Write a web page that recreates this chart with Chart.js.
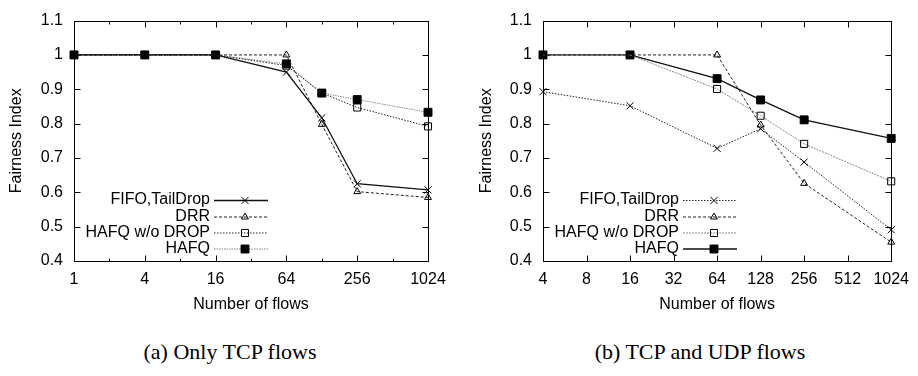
<!DOCTYPE html>
<html>
<head>
<meta charset="utf-8">
<script src="https://cdn.jsdelivr.net/npm/chart.js@4/dist/chart.umd.min.js"></script>
<style>
    body { margin: 0; background: #fff; }
    .box { position: absolute; top: 0; }
    .caption {
        position: absolute;
        width: 400px;
        text-align: center;
        font-family: "Liberation Serif", "Times New Roman", serif;
        font-size: 22px;
        line-height: 26px;
        color: #000;
    }
</style>
</head>
<body>
<div class="box" style="left:0px"><canvas id="chartA" width="460" height="330"></canvas></div>
<div class="box" style="left:460px"><canvas id="chartB" width="458" height="330"></canvas></div>
<div class="caption" style="left:30px; top:339px">(a) Only TCP flows</div>
<div class="caption" style="left:500px; top:339px">(b) TCP and UDP flows</div>

<script>
// =====================
// DATA
// =====================
let seriesNames = ["FIFO,TailDrop", "DRR", "HAFQ w/o DROP", "HAFQ"];
let yTicks = [0.4, 0.5, 0.6, 0.7, 0.8, 0.9, 1.0, 1.1];

// (a) Only TCP flows
let flowsA = [1, 4, 16, 64, 128, 256, 1024];
let fifoA = [1, 1, 1, 0.950, 0.817, 0.625, 0.607];
let drrA = [1, 1, 1, 1.000, 0.798, 0.602, 0.585];
let hafqNoDropA = [1, 1, 1, 0.969, 0.889, 0.847, 0.792];
let hafqA = [1, 1, 1, 0.974, 0.889, 0.870, 0.833];
let xTicksA = [1, 4, 16, 64, 256, 1024];
let xMinorA = [2, 8, 32, 128, 512];

// (b) TCP and UDP flows
let flowsB = [4, 16, 64, 128, 256, 1024];
let fifoB = [0.893, 0.852, 0.728, 0.785, 0.688, 0.491];
let drrB = [1, 1, 1.000, 0.796, 0.626, 0.455];
let hafqNoDropB = [1, 1, 0.901, 0.823, 0.741, 0.632];
let hafqB = [1, 1, 0.931, 0.869, 0.811, 0.757];
let xTicksB = [4, 8, 16, 32, 64, 128, 256, 512, 1024];
let xMinorB = [];

const FONT = "'Liberation Sans', Arial, Helvetica, sans-serif";

// =====================
// LINE / MARKER STYLES
// =====================
const markers = [
    { pointStyle: "crossRot", radius: 5, fill: "rgba(0,0,0,0)" },
    { pointStyle: "triangle", radius: 4, fill: "rgba(0,0,0,0)" },
    { pointStyle: "rect", radius: 5, fill: "rgba(0,0,0,0)" },
    { pointStyle: "rect", radius: 5.6, fill: "#000" }
];

const linesA = [
    { color: "#111", dash: [], width: 1.3 },
    { color: "#222", dash: [3, 2], width: 1 },
    { color: "#222", dash: [1.5, 1.5], width: 1 },
    { color: "#8a8a8a", dash: [1.5, 1], width: 1 }
];

const linesB = [
    { color: "#222", dash: [1.5, 1.5], width: 1 },
    { color: "#222", dash: [3, 2], width: 1 },
    { color: "#8a8a8a", dash: [2, 1], width: 1 },
    { color: "#111", dash: [], width: 1.3 }
];

function makeDatasets(flows, values, lines) {
    return values.map((vals, i) => ({
        label: seriesNames[i],
        data: flows.map((f, k) => ({ x: f, y: vals[k] })),
        borderColor: lines[i].color,
        borderDash: lines[i].dash,
        borderWidth: lines[i].width,
        pointStyle: markers[i].pointStyle,
        pointRadius: markers[i].radius,
        pointBorderColor: "#000",
        pointBackgroundColor: markers[i].fill,
        pointBorderWidth: 1,
        fill: false,
        tension: 0,
        clip: false
    }));
}

// =====================
// GNUPLOT STYLE FRAME + INWARD TICKS
// =====================
const framePlugin = {
    id: "frame",
    beforeDatasetsDraw(chart, args, opts) {
        let ctx = chart.ctx;
        let a = chart.chartArea;
        let xs = chart.scales.x;
        let ys = chart.scales.y;
        let L = Math.round(a.left) + 0.5, R = Math.round(a.right) + 0.5;
        let T = Math.round(a.top) + 0.5, B = Math.round(a.bottom) + 0.5;

        ctx.save();
        ctx.strokeStyle = "#000";
        ctx.lineWidth = 1;
        ctx.beginPath();
        ctx.rect(L, T, R - L, B - T);

        yTicks.forEach(v => {
            let y = Math.round(ys.getPixelForValue(v)) + 0.5;
            ctx.moveTo(L, y); ctx.lineTo(L + 6, y);
            ctx.moveTo(R, y); ctx.lineTo(R - 6, y);
        });
        opts.major.forEach(v => {
            let x = Math.round(xs.getPixelForValue(v)) + 0.5;
            ctx.moveTo(x, B); ctx.lineTo(x, B - 6);
            ctx.moveTo(x, T); ctx.lineTo(x, T + 6);
        });
        opts.minor.forEach(v => {
            let x = Math.round(xs.getPixelForValue(v)) + 0.5;
            ctx.moveTo(x, B); ctx.lineTo(x, B - 3);
            ctx.moveTo(x, T); ctx.lineTo(x, T + 3);
        });
        ctx.stroke();
        ctx.restore();
    }
};

// =====================
// LEGEND (text right aligned, sample on the right)
// =====================
const sampleLegend = {
    id: "sampleLegend",
    afterDatasetsDraw(chart) {
        let ctx = chart.ctx;
        let left = chart.chartArea.left;
        let rows = [200, 216.5, 232.5, 248.5];

        ctx.save();
        chart.data.datasets.forEach((ds, i) => {
            let y = rows[i];
            ctx.font = "16px " + FONT;
            ctx.fillStyle = "#000";
            ctx.textAlign = "right";
            ctx.textBaseline = "middle";
            ctx.fillText(ds.label, left + 136, y);

            ctx.strokeStyle = ds.borderColor;
            ctx.lineWidth = ds.borderWidth;
            ctx.setLineDash(ds.borderDash);
            ctx.beginPath();
            ctx.moveTo(left + 140, y + 0.5);
            ctx.lineTo(left + 194, y + 0.5);
            ctx.stroke();
            ctx.setLineDash([]);

            ctx.strokeStyle = "#000";
            ctx.fillStyle = ds.pointBackgroundColor;
            ctx.lineWidth = 1;
            Chart.helpers.drawPoint(ctx, {
                pointStyle: ds.pointStyle,
                radius: ds.pointRadius,
                rotation: 0,
                borderWidth: 1
            }, left + 171, y + 0.5);
        });
        ctx.restore();
    }
};

// =====================
// BUILD ONE PANEL
// =====================
function buildChart(id, datasets, flowTicks, minorTicks, yWidth, rightPad, yTitlePad) {
    return new Chart(document.getElementById(id), {
        type: "line",
        data: { datasets: datasets },
        plugins: [framePlugin, sampleLegend],
        options: {
            responsive: false,
            animation: false,
            layout: { padding: { top: 11, right: rightPad, left: 0, bottom: 0 } },
            plugins: {
                legend: { display: false },
                tooltip: { enabled: false },
                frame: { major: flowTicks, minor: minorTicks }
            },
            scales: {
                x: {
                    type: "logarithmic",
                    min: flowTicks[0],
                    max: flowTicks[flowTicks.length - 1],
                    grid: { display: false, drawTicks: false },
                    border: { display: false },
                    afterBuildTicks: s => { s.ticks = flowTicks.map(v => ({ value: v })); },
                    afterFit: s => { s.height = 330 - 261; },
                    ticks: {
                        autoSkip: false,
                        maxRotation: 0,
                        padding: 9,
                        color: "#000",
                        font: { family: FONT, size: 16 },
                        callback: v => String(v)
                    },
                    title: {
                        display: true,
                        text: "Number of flows",
                        color: "#000",
                        font: { family: FONT, size: 16 },
                        padding: { top: 0, bottom: 16 }
                    }
                },
                y: {
                    type: "linear",
                    min: 0.4,
                    max: 1.1,
                    grid: { display: false, drawTicks: false },
                    border: { display: false },
                    afterBuildTicks: s => { s.ticks = yTicks.map(v => ({ value: v })); },
                    afterFit: s => { s.width = yWidth; },
                    ticks: {
                        padding: 11,
                        color: "#000",
                        font: { family: FONT, size: 16 },
                        callback: v => String(Number(v.toFixed(1)))
                    },
                    title: {
                        display: true,
                        text: "Fairness Index",
                        color: "#000",
                        font: { family: FONT, size: 16 },
                        padding: { top: yTitlePad, bottom: 0 }
                    }
                }
            }
        }
    });
}

// =====================
// DRAW
// =====================
let chartA = buildChart("chartA",
    makeDatasets(flowsA, [fifoA, drrA, hafqNoDropA, hafqA], linesA),
    xTicksA, xMinorA, 74, 32, 7);

let chartB = buildChart("chartB",
    makeDatasets(flowsB, [fifoB, drrB, hafqNoDropB, hafqB], linesB),
    xTicksB, xMinorB, 83, 20, 17);
</script>
</body>
</html>
